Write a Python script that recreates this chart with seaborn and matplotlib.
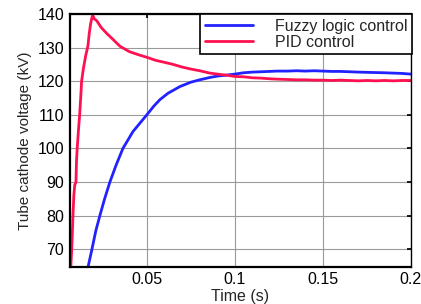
import matplotlib
matplotlib.use("Agg")
import matplotlib.pyplot as plt
import pandas as pd
import seaborn as sns

# PID control response
pid_t = [0.0060, 0.0068, 0.0073, 0.0078, 0.0080, 0.0085, 0.0090, 0.0097, 0.0100,
         0.0104, 0.0112, 0.0118, 0.0125, 0.0129, 0.0140, 0.0152, 0.0165, 0.0172,
         0.0180, 0.0188, 0.0193, 0.0200, 0.0215, 0.0240, 0.0270, 0.0300, 0.0347,
         0.0400, 0.0450, 0.0500, 0.0550, 0.0600, 0.0648, 0.0700, 0.0750, 0.0800,
         0.0858, 0.0900, 0.0950, 0.1000, 0.1050, 0.1100, 0.1150, 0.1200, 0.1240,
         0.1300, 0.1350, 0.1400, 0.1450, 0.1500, 0.1550, 0.1600, 0.1650, 0.1700,
         0.1750, 0.1800, 0.1850, 0.1900, 0.1950, 0.2000]
pid_v = [55.0, 65.0, 70.0, 77.0, 80.0, 86.0, 89.0, 90.0, 96.0,
         100.0, 106.0, 110.0, 116.0, 120.0, 124.0, 127.5, 130.5, 134.0,
         137.0, 139.0, 139.6, 138.6, 138.0, 136.0, 134.3, 132.8, 130.4,
         128.8, 127.9, 127.1, 126.2, 125.6, 125.0, 124.2, 123.6, 123.1,
         122.4, 122.1, 121.8, 121.4, 121.3, 121.0, 120.9, 120.7, 120.6,
         120.5, 120.4, 120.4, 120.3, 120.3, 120.2, 120.3, 120.2, 120.1,
         120.2, 120.1, 120.2, 120.1, 120.2, 120.2]

# Fuzzy logic control response
fuzzy_t = [0.0155, 0.0167, 0.0188, 0.0210, 0.0233, 0.0260, 0.0290, 0.0325, 0.0364,
           0.0421, 0.0500, 0.0540, 0.0574, 0.0620, 0.0688, 0.0750, 0.0800, 0.0858,
           0.0900, 0.0950, 0.1000, 0.1050, 0.1100, 0.1150, 0.1240, 0.1300, 0.1350,
           0.1400, 0.1450, 0.1500, 0.1550, 0.1600, 0.1650, 0.1700, 0.1770, 0.1850,
           0.1900, 0.1950, 0.2000]
fuzzy_v = [62.0, 65.0, 70.0, 75.5, 80.0, 85.0, 90.0, 95.0, 100.0,
           105.0, 110.0, 112.6, 114.5, 116.4, 118.4, 119.7, 120.4, 121.1,
           121.5, 121.8, 122.1, 122.5, 122.7, 122.8, 123.0, 123.0, 123.1,
           123.0, 123.1, 123.0, 122.9, 122.9, 122.8, 122.7, 122.6, 122.5,
           122.4, 122.3, 122.1]

x_ticks = [0.05, 0.1, 0.15, 0.2]
x_tick_labels = ["0.05", "0.1", "0.15", "0.2"]
y_ticks = [70, 80, 90, 100, 110, 120, 130, 140]

sns.set_theme(style="white")
plt.rcParams["font.family"] = ["Liberation Sans", "DejaVu Sans"]

df = pd.concat([
    pd.DataFrame({"t": fuzzy_t, "v": fuzzy_v, "series": "Fuzzy logic control"}),
    pd.DataFrame({"t": pid_t, "v": pid_v, "series": "PID control"}),
])

fig = plt.figure(figsize=(4.21, 3.04), dpi=100)
ax = fig.add_axes([0.166, 0.122, 0.810, 0.832])

sns.lineplot(data=df, x="t", y="v", hue="series", sort=False,
             palette={"Fuzzy logic control": "#2222ff", "PID control": "#ff1050"},
             linewidth=2.0, ax=ax)

ax.set_xlim(0.00625, 0.2)
ax.set_ylim(64.7, 140)
ax.set_xticks(x_ticks)
ax.set_xticklabels(x_tick_labels)
ax.set_yticks(y_ticks)
ax.grid(True, color="#9a9a9a", linewidth=0.8)
ax.set_axisbelow(True)
ax.tick_params(direction="in", length=3, labelsize=11.5, colors="black",
               top=True, right=True)
ax.tick_params(axis="x", pad=4)
ax.tick_params(axis="y", pad=4)
for side in ["left", "bottom", "top"]:
    ax.spines[side].set_color("black")
    ax.spines[side].set_linewidth(1.6)
ax.spines["right"].set_color("black")
ax.spines["right"].set_linewidth(1.0)

ax.set_xlabel("Time (s)", fontsize=11.5, va="top")
ax.xaxis.set_label_coords(0.5, -0.086)
ax.set_ylabel("Tube cathode voltage (kV)", fontsize=11, labelpad=4)

leg = ax.legend(loc="upper right", bbox_to_anchor=(1.003, 1.0), fontsize=11.5,
                frameon=True, fancybox=False, framealpha=1, edgecolor="black",
                handlelength=3.0, borderpad=0.3, labelspacing=0.05,
                handletextpad=1.35, borderaxespad=0)
leg.get_frame().set_linewidth(1.2)
for line in leg.get_lines():
    line.set_linewidth(2.0)

fig.savefig("out.png", dpi=100)
